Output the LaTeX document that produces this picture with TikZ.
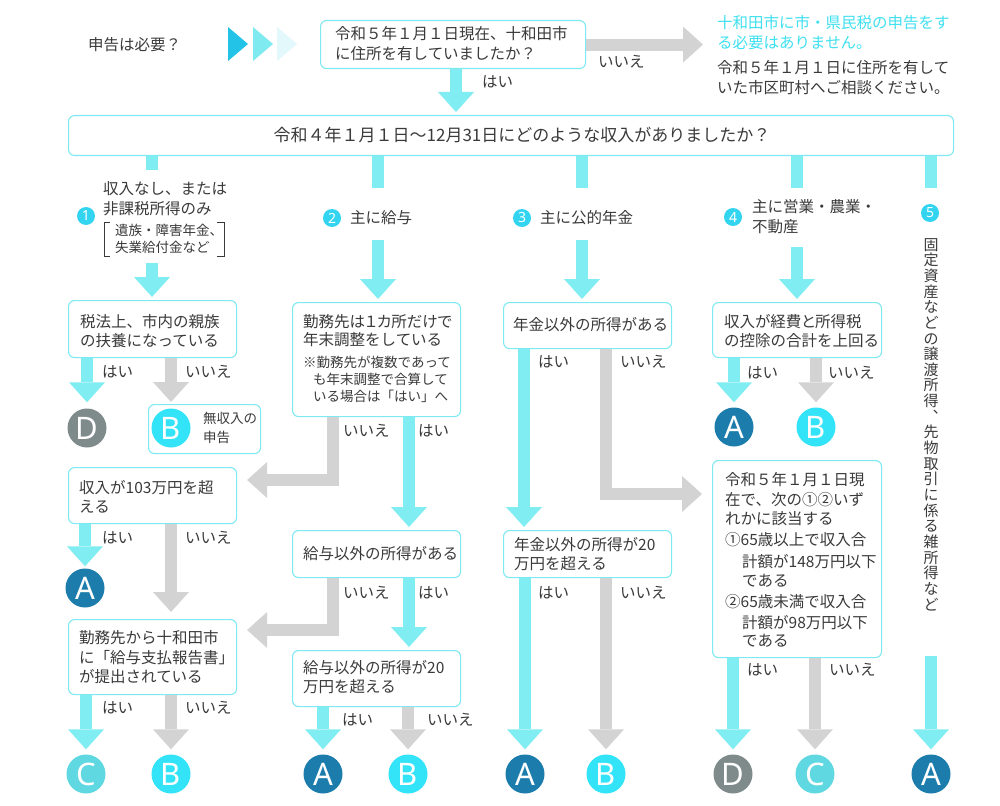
\documentclass[tikz,border=0pt]{standalone}
\usepackage{fontspec}
\setmainfont{Noto Sans CJK JP}
\newfontfamily\latinsans{Noto Sans}
\usetikzlibrary{arrows.meta}
\definecolor{arrc}{HTML}{7FEDF1}
\definecolor{grayc}{HTML}{D3D3D3}
\definecolor{boxc}{HTML}{7FE9F2}
\definecolor{Ac}{HTML}{1C7DAD}
\definecolor{Bc}{HTML}{33E3F7}
\definecolor{Cc}{HTML}{60D8E2}
\definecolor{Dc}{HTML}{7F8B8B}
\definecolor{badgec}{HTML}{33D4F0}
\definecolor{cyantext}{HTML}{3FE0F0}
\definecolor{tri1c}{HTML}{22C3E6}
\definecolor{tri2c}{HTML}{7FEAF0}
\definecolor{tri3c}{HTML}{E2F8FB}
\definecolor{textc}{HTML}{3A3A3A}
\tikzset{
  txt/.style={text=textc, inner sep=0pt, anchor=west, align=left, font=\fontsize{15.5}{20}\selectfont},
  lsp/.style={font=\fontsize{15.5}{#1}\selectfont},
  sml/.style={font=\fontsize{13.5}{#1}\selectfont},
  qbox/.style={draw=boxc, line width=1.1pt, rounded corners=6pt, fill=white, anchor=north west, inner sep=0pt},
  ca/.style={draw=arrc, line width=12pt, -{Triangle[width=36pt,length=20pt,line width=0pt]}},
  ga/.style={draw=grayc, line width=12pt, -{Triangle[width=36pt,length=20pt,line width=0pt]}},
  cbar/.style={draw=arrc, line width=12pt},
  badge/.style={circle, fill=badgec, minimum size=18pt, inner sep=0pt, text=white, font=\latinsans\bfseries\fontsize{14}{14}\selectfont},
  letter/.style={circle, minimum size=39pt, inner sep=0pt, text=white, font=\latinsans\fontsize{31}{31}\selectfont},
}
\begin{document}
\begin{tikzpicture}[x=1pt,y=-1pt]
\useasboundingbox (0,0) rectangle (1000,805);
\fill[white] (0,0) rectangle (1000,805);

% ---------- top row ----------
\node[txt] (ask) at (88,45) {申告は必要？};
\fill[tri1c] (228,27) -- (248,44) -- (228,61) -- cycle;
\fill[tri2c] (253,27) -- (273,44) -- (253,61) -- cycle;
\fill[tri3c] (277,27) -- (297,44) -- (277,61) -- cycle;
\node[qbox, minimum width=265pt, minimum height=48pt] (q0) at (320,20) {};
\node[txt] (q0t) at (335,43.5) {令和５年１月１日現在、十和田市\\に住所を有していましたか？};
\node[txt, text=cyantext] (noans1) at (717,33) {十和田市に市・県民税の申告をす\\る必要はありません。};
\node[txt] (noans2) at (717,78) {令和５年１月１日に住所を有して\\いた市区町村へご相談ください。};
\draw[ga, shorten >=14pt] (q0.east) -- (noans1.west |- q0.east);
\node[txt] (l0n) at (598,62) {いいえ};

\node[qbox, minimum width=885pt, minimum height=40pt] (q1) at (68,115) {};
\node[txt, anchor=center, font=\fontsize{17}{20}\selectfont] (q1t) at (522,135) {令和４年１月１日～12月31日にどのような収入がありましたか？};
\draw[ca, shorten >=3pt] (q0.south -| 456,0) -- (q1.north -| 456,0);
\node[txt] (l0y) at (482,82) {はい};

% stubs
\coordinate (s1) at (152,170);
\coordinate (s2) at (378,188);
\coordinate (s3) at (582,188);
\coordinate (s4) at (797,188);
\coordinate (s5) at (931,188);
\draw[cbar] (q1.south -| s1) -- (s1);
\draw[cbar] (q1.south -| s2) -- (s2);
\draw[cbar] (q1.south -| s3) -- (s3);
\draw[cbar] (q1.south -| s4) -- (s4);
\draw[cbar] (q1.south -| s5) -- (s5);

% ---------- column 1 ----------
\node[badge] (n1) at (86,216) {1};
\node[txt] (h1) at (103,199) {収入なし、または\\非課税所得のみ};
\node[txt, sml=17] (h1s) at (115,238.5) {遺族・障害年金、\\失業給付金など};
\draw[textc, line width=1pt] (110,222) -- (104,222) -- (104,256) -- (110,256);
\draw[textc, line width=1pt] (217,222) -- (224,222) -- (224,256) -- (217,256);
\coordinate (t1) at (152,263);
\node[qbox, minimum width=168pt, minimum height=57pt] (b1) at (68,300) {};
\draw[ca, shorten >=3pt] (t1) -- (b1.north -| t1);
\node[txt, lsp=19] (b1t) at (80,331) {税法上、市内の親族\\の扶養になっている};

\node[letter, fill=Dc] (D1) at (87,428) {D};
\node[qbox, minimum width=112pt, minimum height=49pt] (bB) at (148,404) {};
\node[letter, fill=Bc] (B1) at (171,428) {B};
\node[txt, sml=19] (bBt) at (203,428) {無収入の\\申告};
\draw[ca, shorten >=6pt] (b1.south -| D1) -- (D1.north);
\draw[ga, shorten >=2pt] (b1.south -| B1) -- (bB.north -| B1);
\node[txt] (l1y) at (102,372) {はい};
\node[txt] (l1n) at (185,372) {いいえ};

\node[qbox, minimum width=168pt, minimum height=56pt] (b103) at (68,467) {};
\node[txt, lsp=19] (b103t) at (79,496.5) {収入が103万円を超\\える};
\node[letter, fill=Ac] (A1) at (85,588) {A};
\draw[ca, shorten >=2pt] (b103.south -| A1) -- (A1.north);
\node[qbox, minimum width=168pt, minimum height=75pt] (bkin) at (68,619) {};
\draw[ga, shorten >=7pt] (b103.south -| 171,0) -- (bkin.north -| 171,0);
\node[txt] (l2y) at (102,538) {はい};
\node[txt] (l2n) at (185,538) {いいえ};
\node[txt, lsp=19.5] (bkint) at (79,657.5) {勤務先から十和田市\\に「給与支払報告書」\\が提出されている};

\node[letter, fill=Cc] (C1) at (86,774) {C};
\node[letter, fill=Bc] (B2) at (171,774) {B};
\draw[ca, shorten >=5pt] (bkin.south -| C1) -- (C1.north);
\draw[ga, shorten >=5pt] (bkin.south -| B2) -- (B2.north);
\node[txt] (l3y) at (102,708) {はい};
\node[txt] (l3n) at (185,708) {いいえ};

% ---------- column 2 ----------
\node[badge] (n2) at (332,218) {2};
\node[txt] (h2) at (350,218) {主に給与};
\coordinate (t2) at (378,240);
\node[qbox, minimum width=168pt, minimum height=114pt] (b2a) at (292,302) {};
\draw[ca, shorten >=3pt] (t2) -- (b2a.north -| t2);
\node[txt, lsp=18] (b2at) at (303,331) {\addfontfeature{RawFeature=+palt}勤務先は１カ所だけで\\年末調整をしている};
\node[txt, sml=17] (b2an1) at (303,362) {※勤務先が複数であって};
\node[txt, sml=17] (b2an2) at (313,387.5) {も年末調整で合算して\\いる場合は「はい」へ};
\draw[ga, shorten >=10pt] (b2a.south -| 333,0) |- (b103.east |- 0,480);
\node[txt] (l4n) at (343,431) {いいえ};
\node[txt] (l4y) at (418,431) {はい};

\node[qbox, minimum width=168pt, minimum height=47pt] (b2b) at (292,530) {};
\draw[ca, shorten >=3pt] (b2a.south -| 409,0) -- (b2b.north -| 409,0);
\node[txt] (b2bt) at (303,554) {給与以外の所得がある};
\draw[ga, shorten >=10pt] (b2b.south -| 333,0) |- (bkin.east |- 0,630);
\node[txt] (l5n) at (343,593) {いいえ};
\node[txt] (l5y) at (418,593) {はい};

\node[qbox, minimum width=168pt, minimum height=56pt] (b2c) at (292,650) {};
\draw[ca, shorten >=3pt] (b2b.south -| 409,0) -- (b2c.north -| 409,0);
\node[txt, lsp=19] (b2ct) at (303,677.5) {給与以外の所得が20\\万円を超える};
\node[letter, fill=Ac] (A2) at (323,774) {A};
\node[letter, fill=Bc] (B3) at (408,774) {B};
\draw[ca, shorten >=5pt] (b2c.south -| A2) -- (A2.north);
\draw[ga, shorten >=5pt] (b2c.south -| B3) -- (B3.north);
\node[txt] (l6y) at (342,720) {はい};
\node[txt] (l6n) at (427,720) {いいえ};

% ---------- column 3 ----------
\node[badge] (n3) at (522,218) {3};
\node[txt] (h3) at (540,218) {主に公的年金};
\coordinate (t3) at (582,240);
\node[qbox, minimum width=168pt, minimum height=46pt] (b3a) at (503,302) {};
\draw[ca, shorten >=3pt] (t3) -- (b3a.north -| t3);
\node[txt] (b3at) at (513,325) {年金以外の所得がある};
\node[qbox, minimum width=168pt, minimum height=47pt] (b3b) at (503,530) {};
\node[qbox, minimum width=169pt, minimum height=197pt] (b4b) at (712,460) {};
\draw[ca, shorten >=3pt] (b3a.south -| 524,0) -- (b3b.north -| 524,0);
\draw[ga, shorten >=10pt] (b3a.south -| 606,0) |- (b4b.west |- 0,494);
\node[txt] (l7y) at (538,362) {はい};
\node[txt] (l7n) at (620,362) {いいえ};
\node[txt, lsp=19] (b3bt) at (514,554.5) {年金以外の所得が20\\万円を超える};
\node[letter, fill=Ac] (A3) at (525,774) {A};
\node[letter, fill=Bc] (B4) at (606,774) {B};
\draw[ca, shorten >=5pt] (b3b.south -| A3) -- (A3.north);
\draw[ga, shorten >=5pt] (b3b.south -| B4) -- (B4.north);
\node[txt] (l8y) at (538,593) {はい};
\node[txt] (l8n) at (620,593) {いいえ};

% ---------- column 4 ----------
\node[badge] (n4) at (733,217) {4};
\node[txt] (h4) at (752,217) {主に営業・農業・\\不動産};
\coordinate (t4) at (797,247);
\node[qbox, minimum width=169pt, minimum height=55pt] (b4a) at (712,302) {};
\draw[ca, shorten >=3pt] (t4) -- (b4a.north -| t4);
\node[txt, lsp=19] (b4at) at (724,331.5) {\addfontfeature{RawFeature=+palt}収入が経費と所得税\\の控除の合計を上回る};
\node[letter, fill=Ac] (A4) at (734,427) {A};
\node[letter, fill=Bc] (B5) at (816,427) {B};
\draw[ca, shorten >=5pt] (b4a.south -| A4) -- (A4.north);
\draw[ga, shorten >=5pt] (b4a.south -| B5) -- (B5.north);
\node[txt] (l9y) at (747,373) {はい};
\node[txt] (l9n) at (828,373) {いいえ};

\node[txt, lsp=19.5] (b4bt1) at (725,499.5) {令和５年１月１日現\\在で、次の①②いず\\れかに該当する};
\node[txt] (b4bt2) at (725,540) {①65歳以上で収入合};
\node[txt, lsp=19] (b4bt3) at (742,570.5) {計額が148万円以下\\である};
\node[txt] (b4bt4) at (725,602) {②65歳未満で収入合};
\node[txt, lsp=18] (b4bt5) at (742,631) {計額が98万円以下\\である};
\node[letter, fill=Dc] (D4) at (733,774) {D};
\node[letter, fill=Cc] (C4) at (815,774) {C};
\draw[ca, shorten >=5pt] (b4b.south -| D4) -- (D4.north);
\draw[ga, shorten >=5pt] (b4b.south -| C4) -- (C4.north);
\node[txt] (l10y) at (747,670) {はい};
\node[txt] (l10n) at (829,670) {いいえ};

% ---------- column 5 ----------
\node[badge] (n5) at (930,213) {5};
\node[txt, anchor=north, align=center, font=\fontsize{15}{15.65}\selectfont] (v5) at (931,238)
 {固\\定\\資\\産\\な\\ど\\の\\譲\\渡\\所\\得\\︑\\先\\物\\取\\引\\に\\係\\る\\雑\\所\\得\\な\\ど};
\coordinate (t5) at (931,656);
\node[letter, fill=Ac] (A5) at (931,774) {A};
\draw[ca, shorten >=5pt] (t5) -- (A5.north);
\end{tikzpicture}
\end{document}
